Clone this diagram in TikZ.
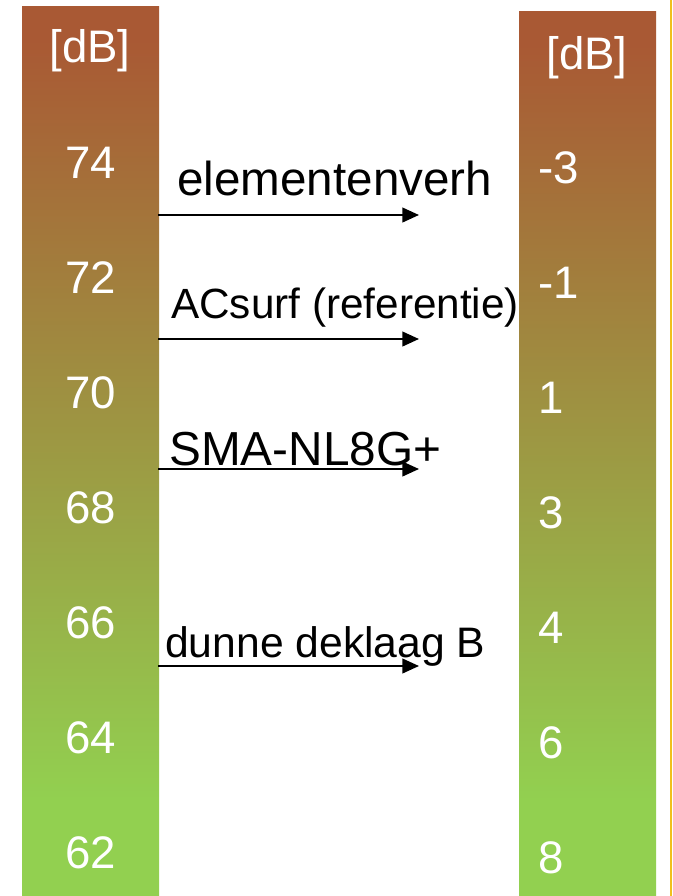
\documentclass[tikz,border=0pt]{standalone}
\usepackage{fontspec}
\setmainfont{Liberation Sans}
\usetikzlibrary{arrows.meta}
\definecolor{topbrown}{RGB}{169,89,52}
\definecolor{botgreen}{RGB}{146,208,80}
\definecolor{edgeyellow}{RGB}{240,192,30}
\pgfdeclareverticalshading{barshade}{100bp}{color(0bp)=(botgreen); color(30.4bp)=(botgreen); color(73.1bp)=(topbrown); color(100bp)=(topbrown)}
\newcommand{\fs}[1]{\fontsize{#1}{#1}\selectfont}
\tikzset{
  bar/.style={shading=barshade, draw=none},
  scalelbl/.style={text=white, inner sep=0pt, font=\fs{34.2pt}},
  arrowlbl/.style={text=black, inner sep=0pt, anchor=base west},
  conn/.style={line width=1.6pt, -{Triangle[length=12.5pt, width=11pt]}}
}
\begin{document}
\begin{tikzpicture}[x=0.75pt, y=-0.75pt]
\useasboundingbox (0,0) rectangle (672,896);
\fill[white] (0,0) rectangle (672,896);
% bars
\shade[bar] (22,6) rectangle (159,896);
\shade[bar] (519,11) rectangle (656,896);
\draw[edgeyellow, line width=1.2pt] (671,0) -- (671,896);
% left scale
\node[scalelbl, anchor=base] (ldb) at (90,62) {[dB]};
\foreach \v [count=\i from 0] in {74,72,70,68,66,64,62}{
  \node[scalelbl, anchor=base] (l\v) at (91,178+115*\i) {\v};
}
% right scale
\node[scalelbl, anchor=base] (rdb) at (587,69) {[dB]};
\foreach \v/\n [count=\i from 0] in {-3/m3,-1/m1,1/p1,3/p3,4/p4,6/p6,8/p8}{
  \node[scalelbl, anchor=base west] (r\n) at (538,183+115*\i) {\v};
}
% arrows
\coordinate (s1) at (158,215);
\coordinate (e1) at (419,215);
\coordinate (s2) at (158,339);
\coordinate (e2) at (419,339);
\coordinate (s3) at (158,469);
\coordinate (e3) at (419,469);
\coordinate (s4) at (158,666);
\coordinate (e4) at (419,666);
\draw[conn] (s1) -- (e1);
\draw[conn] (s2) -- (e2);
\draw[conn] (s3) -- (e3);
\draw[conn] (s4) -- (e4);
% labels
\node[arrowlbl, font=\fs{35.7pt}] (t1) at (177,195) {elementenverh};
\node[arrowlbl, font=\fs{31.7pt}] (t2) at (171,318) {ACsurf (referentie)};
\node[arrowlbl, font=\fs{35.8pt}] (t3) at (169,465) {SMA-NL8G+};
\node[arrowlbl, font=\fs{32pt}] (t4) at (165,657) {dunne deklaag B};
\end{tikzpicture}
\end{document}
